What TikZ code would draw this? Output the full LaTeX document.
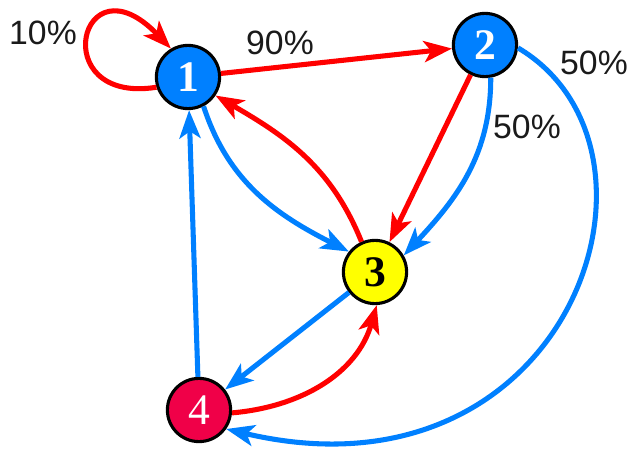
\documentclass[tikz,border=0pt]{standalone}
\usepackage{fontspec}
\setmainfont{Liberation Serif}
\newfontfamily\pctfont{Liberation Sans}
\usetikzlibrary{arrows.meta}
\definecolor{skyblue}{HTML}{0080FF}
\definecolor{pure}{HTML}{FF0000}
\definecolor{lemon}{HTML}{FFFF00}
\definecolor{crimson}{HTML}{F00048}
\definecolor{ink}{HTML}{1A1A1A}
\tikzset{
  state/.style={circle, draw=black, line width=2.2pt, minimum size=1.58cm, inner sep=0pt, font=\fontsize{31}{33}\selectfont\bfseries, text=white},
  redarrow/.style={-{Stealth[length=20pt, width=15pt, inset=5pt]}, line width=3.6pt, draw=pure},
  bluearrow/.style={-{Stealth[length=20pt, width=15pt, inset=5pt]}, line width=3.6pt, draw=skyblue},
  pct/.style={font=\pctfont\fontsize{24}{26}\selectfont, text=ink, inner sep=0pt},
}

\begin{document}
\begin{tikzpicture}[x=0.025cm, y=0.025cm]
  \useasboundingbox (0,0) rectangle (633,449);
  % states
  \node[state, fill=skyblue] (n1) at (188,372) {1};
  \node[state, fill=skyblue] (n2) at (485,404) {2};
  \node[state, fill=lemon, text=black] (n3) at (375,177) {3};
  \node[state, fill=crimson, font=\fontsize{31}{33}\selectfont] (n4) at (199,39) {4};
  % red transitions
  \draw[redarrow] (n1.198) .. controls (45,344) and (80,495) .. (n1.121);
  \draw[redarrow] (n1) -- (n2);
  \draw[redarrow] (n2) -- (n3);
  \draw[redarrow] (n3.114) to[out=112, in=-30] (n1.-34);
  \draw[redarrow] (n4.-5) to[out=5, in=-106] (n3.-87);
  % blue transitions
  \draw[bluearrow] (n1.-62) to[out=-72, in=153] (n3.142);
  \draw[bluearrow] (n2.-80) to[out=-90, in=47] (n3.30);
  \draw[bluearrow] (n2.-5) .. controls (690,299) and (570,-61) .. (n4.-35);
  \draw[bluearrow] (n3) -- (n4);
  \draw[bluearrow] (n4) -- (n1);
  % probabilities
  \node[pct] (p10) at (43,416) {10\%};
  \node[pct] (p90) at (280,406) {90\%};
  \node[pct] (p50a) at (594,386) {50\%};
  \node[pct] (p50b) at (527,322) {50\%};
\end{tikzpicture}
\end{document}
